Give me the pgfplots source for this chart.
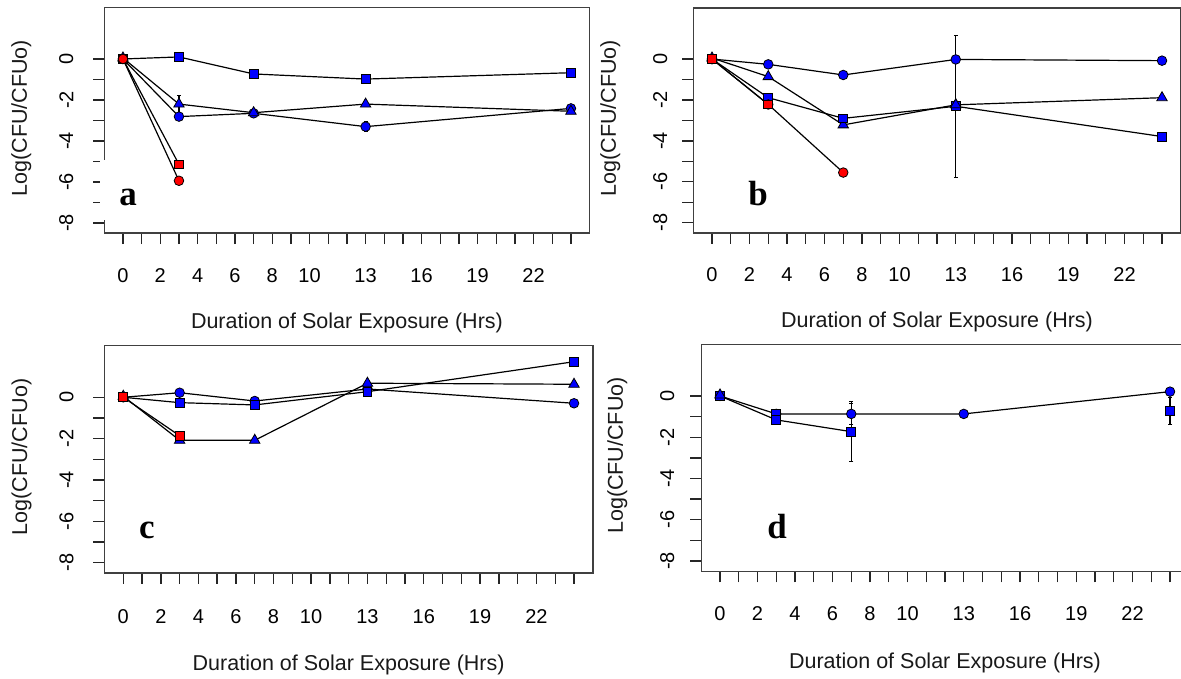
\documentclass[border=0pt]{standalone}
\usepackage{pgfplots}
\pgfplotsset{compat=1.18}
\usepackage{fontspec}
\setmainfont{Liberation Sans}
\newfontfamily\tnr{Liberation Serif}
\definecolor{mblue}{RGB}{0,0,255}
\definecolor{mred}{RGB}{255,0,0}
\pgfplotsset{
  rpanel/.style={
    scale only axis,
    xmin=-1, xmax=25, ymin=-8.5, ymax=2.5,
    axis line style={line width=1.5pt, black!75},
    xtick={0,...,24},
    xticklabels={0,,2,,4,,6,,8,,10,,,13,,,16,,,19,,,22,,},
    ytick={-8,...,0},
    yticklabels={-8,,-6,,-4,,-2,,0},
    tick pos=left,
    tick align=outside,
    major tick length=11pt,
    tick style={line width=1.4pt, black!85},
    /pgf/number format/assume math mode=true,
    ticklabel style={font=\fontsize{20}{21}\selectfont, text=black},
    yticklabel style={rotate=90, anchor=center},
    xticklabel style={anchor=center},
    label style={font=\fontsize{21.5}{22}\selectfont, text=black!90},
    xlabel={Duration of Solar Exposure (Hrs)},
    ylabel={Log(CFU/CFUo)},
    every axis plot/.append style={line width=1.2pt, black},
    clip=false,
  },
  bc/.style={mark=*, mark size=4.8pt, mark options={fill=mblue, draw=black, line width=0.8pt, solid}},
  bs/.style={mark=square*, mark size=4.4pt, mark options={fill=mblue, draw=black, line width=0.8pt, solid}},
  bt/.style={mark=triangle*, mark size=6pt, mark options={fill=mblue, draw=black, line width=0.8pt, solid}},
  rc/.style={mark=*, mark size=4.8pt, mark options={fill=mred, draw=black, line width=0.8pt, solid}},
  rs/.style={mark=square*, mark size=4.4pt, mark options={fill=mred, draw=black, line width=0.8pt, solid}},
  eb/.style={/pgfplots/error bars/y dir=both, /pgfplots/error bars/y explicit,
    /pgfplots/error bars/error bar style={line width=1.2pt, black},
    /pgfplots/error bars/error mark options={line width=1.2pt, mark size=2pt, rotate=90}},
}
\begin{document}
\begin{tikzpicture}[x=1pt,y=1pt]
\useasboundingbox (0,0) rectangle (1181,679);
% ---------- panel a ----------
\begin{axis}[rpanel, at={(104.3pt,445.75pt)}, anchor=south west,
  width=485.3pt, height=225.5pt,
  xticklabel shift=31pt, yticklabel shift=27pt,
  xlabel style={at={(axis description cs:0.5,-0.398)}, anchor=center},
  ylabel style={at={(axis description cs:-0.171,0.51)}, anchor=center}]
\addplot[bs] coordinates {(0,0) (3,0.1) (7,-0.73) (13,-0.98) (24,-0.67)};
\addplot[bc, eb] coordinates {(0,0) +- (0,0) (3,-2.81) +- (0,0) (7,-2.65) +- (0,0) (13,-3.3) +- (0,0.25) (24,-2.41) +- (0,0)};
\addplot[bt, eb] coordinates {(0,0.05) +- (0,0) (3,-2.2) +- (0,0.42) (7,-2.62) +- (0,0) (13,-2.2) +- (0,0) (24,-2.55) +- (0,0)};
\addplot[rs] coordinates {(0,0) (3,-5.14)};
\addplot[rc] coordinates {(0,0) (3,-5.94)};
\end{axis}
\fill[white] (100,459) rectangle (150,519);
\node[anchor=base, font=\tnr\bfseries\fontsize{35}{36}\selectfont, inner sep=0pt] at (128,473.3) {a};
% ---------- panel b ----------
\begin{axis}[rpanel, at={(693.25pt,446.1pt)}, anchor=south west,
  width=487.5pt, height=225pt,
  xticklabel shift=31pt, yticklabel shift=22pt,
  xlabel style={at={(axis description cs:0.5,-0.398)}, anchor=center},
  ylabel style={at={(axis description cs:-0.170,0.51)}, anchor=center}]
\addplot[bc] coordinates {(0,0) (3,-0.26) (7,-0.78) (13,-0.02) (24,-0.08)};
\addplot[bt] coordinates {(0,0.05) (3,-0.86) (7,-3.22) (13,-2.24) (24,-1.89)};
\addplot[bs, eb] coordinates {(0,0) +- (0,0) (3,-1.89) +- (0,0) (7,-2.9) +- (0,0) (13,-2.31) +- (0,3.47) (24,-3.79) +- (0,0)};
\addplot[rc] coordinates {(0,0) (3,-2.22) (7,-5.55)};
\addplot[rs] coordinates {(0,0) (3,-2.22)};
\addplot[bt, only marks] coordinates {(13,-2.24)};
\end{axis}
\node[anchor=base, font=\tnr\bfseries\fontsize{35}{36}\selectfont, inner sep=0pt] at (758,473) {b};
% ---------- panel c ----------
\begin{axis}[rpanel, at={(104.5pt,106pt)}, anchor=south west,
  width=488.3pt, height=227.4pt,
  xticklabel shift=33pt, yticklabel shift=27pt,
  xlabel style={at={(axis description cs:0.5,-0.405)}, anchor=center},
  ylabel style={at={(axis description cs:-0.170,0.51)}, anchor=center}]
\addplot[bc] coordinates {(0,0) (3,0.22) (7,-0.18) (13,0.4) (24,-0.29)};
\addplot[bs] coordinates {(0,0) (3,-0.26) (7,-0.37) (13,0.27) (24,1.72)};
\addplot[bt] coordinates {(0,0.05) (3,-2.08) (7,-2.08) (13,0.68) (24,0.63)};
\addplot[rs] coordinates {(0,0) (3,-1.86)};
\end{axis}
\node[anchor=base, font=\tnr\bfseries\fontsize{35}{36}\selectfont, inner sep=0pt] at (147,140) {c};
% ---------- panel d ----------
\begin{axis}[rpanel, at={(701.25pt,107.7pt)}, anchor=south west,
  width=487.5pt, height=226.9pt,
  xticklabel shift=31pt, yticklabel shift=23pt,
  xlabel style={at={(axis description cs:0.5,-0.405)}, anchor=center},
  ylabel style={at={(axis description cs:-0.172,0.51)}, anchor=center}]
\addplot[bc, eb] coordinates {(0,0) +- (0,0) (3,-0.87) +- (0,0) (7,-0.87) +- (0,0.52) (13,-0.87) +- (0,0) (24,0.21) +- (0,0.2)};
\addplot[bs, only marks] coordinates {(3,-0.87)};
\addplot[bs, eb] coordinates {(0,0) +- (0,0) (3,-1.16) +- (0,0) (7,-1.73) +- (0,1.45)};
\addplot[bs, only marks, eb] coordinates {(24,-0.73) +- (0,0.65)};
\addplot[bt, only marks] coordinates {(0,0.05)};
\end{axis}
\node[anchor=base, font=\tnr\bfseries\fontsize{35}{36}\selectfont, inner sep=0pt] at (777,140) {d};
\end{tikzpicture}
\end{document}
